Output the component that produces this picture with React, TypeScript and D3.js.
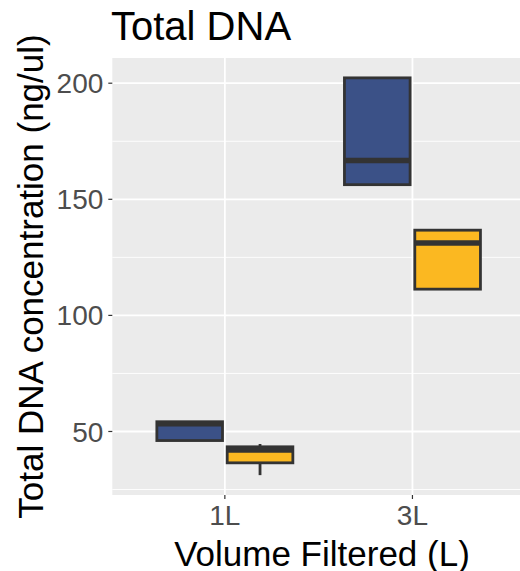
import React from "react";
import * as d3 from "d3";

const categories = ["1L", "3L"];
const seriesNames = ["A", "B"];
const seriesColors = ["#3B5187", "#FBB821"];
// per series, per category: [lowerWhisker, q1, median, q3, upperWhisker]
const seriesA = [
  [46.1, 46.1, 53.3, 54.2, 54.2],
  [156.3, 156.3, 166.7, 202.3, 202.3],
];
const seriesB = [
  [31.2, 36.5, 42.1, 43.4, 44.6],
  [111.3, 111.3, 131.2, 136.7, 136.7],
];
const yTicks = [50, 100, 150, 200];
const yMinor = [25, 75, 125, 175];

const W = 520;
const H = 571;
const panel = { left: 112.3, top: 58, right: 525, bottom: 495 };

export default function App() {
  const allSeries = [seriesA, seriesB];
  const vals = allSeries.flat(2);
  const lo = d3.min(vals) as number;
  const hi = d3.max(vals) as number;
  const pad = (hi - lo) * 0.05;
  const y = d3.scaleLinear().domain([lo - pad, hi + pad]).range([panel.bottom, panel.top]);
  const x = d3.scalePoint<string>().domain(categories).range([panel.left, panel.right]).padding(0.6);
  const step = x.step();
  const dodge = 0.75;
  const boxW = 0.35 * step;
  const font = "'Liberation Sans', Arial, sans-serif";

  return (
    <svg width={W} height={H} style={{ position: "absolute", left: 0, top: 0, display: "block" }} fontFamily={font}>
      <rect x={0} y={0} width={W} height={H} fill="#fff" />
      <rect x={panel.left} y={panel.top} width={panel.right - panel.left} height={panel.bottom - panel.top} fill="#EBEBEB" />
      {yMinor.map((t) => (
        <line key={"mn" + t} x1={panel.left} x2={panel.right} y1={y(t)} y2={y(t)} stroke="#fff" strokeWidth={0.9} />
      ))}
      {yTicks.map((t) => (
        <line key={"mj" + t} x1={panel.left} x2={panel.right} y1={y(t)} y2={y(t)} stroke="#fff" strokeWidth={1.8} />
      ))}
      {categories.map((c) => (
        <line key={"xg" + c} x1={x(c)} x2={x(c)} y1={panel.top} y2={panel.bottom} stroke="#fff" strokeWidth={1.8} />
      ))}
      {allSeries.map((s, si) =>
        s.map((d, ci) => {
          const cx = (x(categories[ci]) as number) + ((si + 0.5) / seriesNames.length - 0.5) * dodge * step;
          const [wl, q1, med, q3, wu] = d;
          return (
            <g key={si + "-" + ci}>
              {wu > q3 && <line x1={cx} x2={cx} y1={y(q3)} y2={y(wu)} stroke="#333" strokeWidth={2.8} />}
              {wl < q1 && <line x1={cx} x2={cx} y1={y(q1)} y2={y(wl)} stroke="#333" strokeWidth={2.8} />}
              <rect x={cx - boxW / 2} y={y(q3)} width={boxW} height={y(q1) - y(q3)} fill={seriesColors[si]} stroke="#333" strokeWidth={2.8} />
              <line x1={cx - boxW / 2} x2={cx + boxW / 2} y1={y(med)} y2={y(med)} stroke="#333" strokeWidth={5.6} />
            </g>
          );
        })
      )}
      {yTicks.map((t) => (
        <g key={"yt" + t}>
          <line x1={panel.left - 4} x2={panel.left} y1={y(t)} y2={y(t)} stroke="#333" strokeWidth={1.2} />
          <text x={panel.left - 9} y={y(t)} dy="0.36em" textAnchor="end" fontSize={28} fill="#4D4D4D">
            {t}
          </text>
        </g>
      ))}
      {categories.map((c) => (
        <g key={"xt" + c}>
          <line x1={x(c)} x2={x(c)} y1={panel.bottom} y2={panel.bottom + 4} stroke="#333" strokeWidth={1.2} />
          <text x={x(c)} y={525} textAnchor="middle" fontSize={28} fill="#4D4D4D">
            {c}
          </text>
        </g>
      ))}
      <text x={322} y={566} textAnchor="middle" fontSize={35} fill="#000">
        Volume Filtered (L)
      </text>
      <text transform={`translate(43, ${(panel.top + panel.bottom) / 2}) rotate(-90)`} textAnchor="middle" fontSize={35} fill="#000">
        Total DNA concentration (ng/ul)
      </text>
      <text x={111} y={40} fontSize={40} fill="#000">
        Total DNA
      </text>
    </svg>
  );
}
